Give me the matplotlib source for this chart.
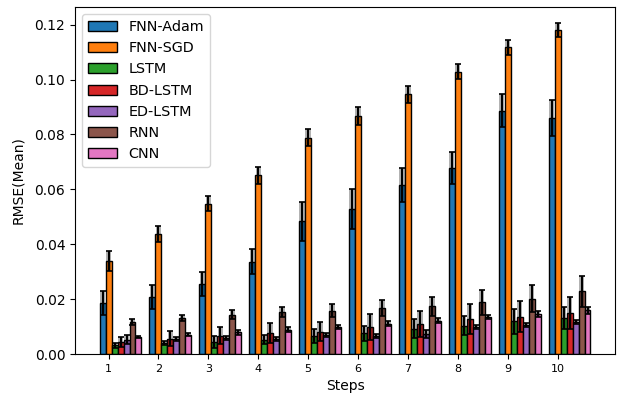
import numpy as np
from matplotlib import pyplot as plt


steps = [1, 2, 3, 4, 5, 6, 7, 8, 9, 10]
models = ["FNN-Adam", "FNN-SGD", "LSTM", "BD-LSTM", "ED-LSTM", "RNN", "CNN"]

# mean RMSE per step, one list per model
fnn_adam = [0.0186, 0.0209, 0.0255, 0.0336, 0.0483, 0.0529, 0.0616, 0.0679, 0.0887, 0.0861]
fnn_sgd = [0.0339, 0.0436, 0.0548, 0.0652, 0.0788, 0.0866, 0.0946, 0.1028, 0.1117, 0.1179]
lstm = [0.0032, 0.0041, 0.0043, 0.0053, 0.0067, 0.0076, 0.0092, 0.0104, 0.0119, 0.0132]
bd_lstm = [0.0044, 0.0056, 0.0067, 0.0077, 0.0082, 0.0098, 0.0110, 0.0128, 0.0136, 0.0150]
ed_lstm = [0.0053, 0.0055, 0.0058, 0.0055, 0.0070, 0.0067, 0.0073, 0.0098, 0.0106, 0.0116]
rnn = [0.0117, 0.0132, 0.0144, 0.0153, 0.0158, 0.0168, 0.0174, 0.0188, 0.0202, 0.0228]
cnn = [0.0063, 0.0071, 0.0079, 0.0089, 0.0099, 0.0111, 0.0122, 0.0135, 0.0146, 0.0159]

# error (std) per step
fnn_adam_err = [0.0042, 0.0044, 0.0044, 0.0046, 0.0072, 0.0073, 0.0061, 0.0058, 0.0060, 0.0065]
fnn_sgd_err = [0.0035, 0.0029, 0.0028, 0.0031, 0.0030, 0.0033, 0.0031, 0.0027, 0.0027, 0.0026]
lstm_err = [0.0010, 0.0008, 0.0022, 0.0018, 0.0026, 0.0028, 0.0034, 0.0036, 0.0045, 0.0041]
bd_lstm_err = [0.0020, 0.0027, 0.0030, 0.0036, 0.0036, 0.0047, 0.0046, 0.0056, 0.0056, 0.0057]
ed_lstm_err = [0.0016, 0.0006, 0.0007, 0.0007, 0.0008, 0.0007, 0.0015, 0.0008, 0.0008, 0.0008]
rnn_err = [0.0012, 0.0011, 0.0018, 0.0018, 0.0024, 0.0030, 0.0034, 0.0044, 0.0048, 0.0057]
cnn_err = [0.0004, 0.0006, 0.0009, 0.0008, 0.0006, 0.0010, 0.0010, 0.0008, 0.0010, 0.0012]


means = [fnn_adam, fnn_sgd, lstm, bd_lstm, ed_lstm, rnn, cnn]
errs = [fnn_adam_err, fnn_sgd_err, lstm_err, bd_lstm_err, ed_lstm_err, rnn_err, cnn_err]

fig = plt.figure(figsize=(6.2, 4.01), dpi=100)
ax = fig.add_subplot(111)
fig.subplots_adjust(left=0.121, right=0.992, top=0.9825, bottom=0.117)

x = np.arange(len(steps))
w = 0.12
for i, name in enumerate(models):
    m = np.array(means[i])
    e = np.array(errs[i])
    pos = x + i * w
    ax.bar(pos, m, w, color="C" + str(i), edgecolor="black", linewidth=1, label=name, zorder=2)
    # shaded error box
    ax.bar(pos, 2 * e, w * 0.9, bottom=m - e, color="black", alpha=0.3, linewidth=0, zorder=3)
    ax.errorbar(pos, m, yerr=e, fmt="none", ecolor="black", elinewidth=1.5, capsize=2.5,
                capthick=1.2, zorder=4)

ax.set_xticks(x + w)
ax.set_xticklabels([str(s) for s in steps], fontsize=8)
ax.set_ylim(0, 0.1264)
ax.set_xlabel("Steps")
ax.set_ylabel("RMSE(Mean)", labelpad=7)
ax.legend(loc="upper left", fontsize=10.4)

fig.savefig("out.png", dpi=100)
